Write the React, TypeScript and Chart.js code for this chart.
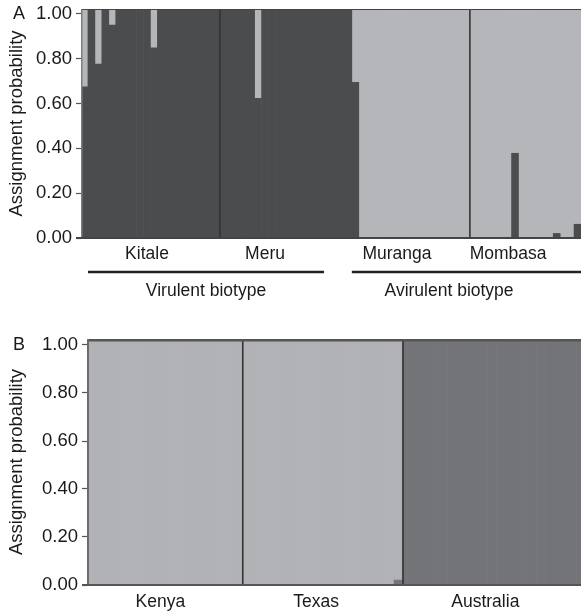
import React, { useEffect, useRef } from 'react';
import { Chart, registerables } from 'chart.js';

Chart.register(...registerables);

const FONT_FAMILY = '"Liberation Sans", Arial, Helvetica, sans-serif';
const FONT_SIZE = 17.5;
const AXIS_FONT_SIZE = 18.5;
const TEXT_COLOR = '#1a1a1a';

// ---------------- Panel A ----------------
const populationsA = ['Kitale', 'Meru', 'Muranga', 'Mombasa'];
// individual (within its population) under which the population name is printed
const labelIndexA = [9, 6, 5, 5];

const kitaleCluster1 = [0.66, 1, 0.76, 1, 0.93, 1, 1, 1, 1, 1, 0.83, 1, 1, 1, 1, 1, 1, 1, 1, 1];
const kitaleCluster2 = [0.34, 0, 0.24, 0, 0.07, 0, 0, 0, 0, 0, 0.17, 0, 0, 0, 0, 0, 0, 0, 0, 0];
const meruCluster1 = [1, 1, 1, 1, 1, 0.61, 1, 1, 1, 1, 1, 1, 1, 1, 1, 1, 1, 1, 1, 0.68];
const meruCluster2 = [0, 0, 0, 0, 0, 0.39, 0, 0, 0, 0, 0, 0, 0, 0, 0, 0, 0, 0, 0, 0.32];
const murangaCluster1 = [0, 0, 0, 0, 0, 0, 0, 0, 0, 0, 0, 0, 0, 0, 0, 0];
const murangaCluster2 = [1, 1, 1, 1, 1, 1, 1, 1, 1, 1, 1, 1, 1, 1, 1, 1];
const mombasaCluster1 = [0, 0, 0, 0, 0, 0, 0.37, 0, 0, 0, 0, 0, 0.02, 0, 0, 0.06];
const mombasaCluster2 = [1, 1, 1, 1, 1, 1, 0.63, 1, 1, 1, 1, 1, 0.98, 1, 1, 0.94];

const clusterA1 = [kitaleCluster1, meruCluster1, murangaCluster1, mombasaCluster1];
const clusterA2 = [kitaleCluster2, meruCluster2, murangaCluster2, mombasaCluster2];
// which population boundaries get a dividing line (after population i)
const dividersA = [true, false, true];

const biotypesA = [
  { name: 'Virulent biotype', first: 1, last: 34, labelAt: 17.5 },
  { name: 'Avirulent biotype', first: 39, last: 71, labelAt: 52.5 },
];

// ---------------- Panel B ----------------
const populationsB = ['Kenya', 'Texas', 'Australia'];
const labelIndexB = [16, 16, 18];

const kenyaCluster1 = [0, 0, 0, 0, 0, 0, 0, 0, 0, 0, 0, 0, 0, 0, 0, 0, 0, 0, 0, 0, 0, 0, 0, 0, 0, 0, 0, 0, 0, 0, 0, 0, 0, 0, 0];
const kenyaCluster2 = [1, 1, 1, 1, 1, 1, 1, 1, 1, 1, 1, 1, 1, 1, 1, 1, 1, 1, 1, 1, 1, 1, 1, 1, 1, 1, 1, 1, 1, 1, 1, 1, 1, 1, 1];
const texasCluster1 = [0, 0, 0, 0, 0, 0, 0, 0, 0, 0, 0, 0, 0, 0, 0, 0, 0, 0, 0, 0, 0, 0, 0, 0, 0, 0, 0, 0, 0, 0, 0, 0, 0, 0, 0.02, 0.02];
const texasCluster2 = [1, 1, 1, 1, 1, 1, 1, 1, 1, 1, 1, 1, 1, 1, 1, 1, 1, 1, 1, 1, 1, 1, 1, 1, 1, 1, 1, 1, 1, 1, 1, 1, 1, 1, 0.98, 0.98];
const australiaCluster1 = [1, 1, 1, 1, 1, 1, 1, 1, 1, 1, 1, 1, 1, 1, 1, 1, 1, 1, 1, 1, 1, 1, 1, 1, 1, 1, 1, 1, 1, 1, 1, 1, 1, 1, 1, 1, 1, 1, 1, 1];
const australiaCluster2 = [0, 0, 0, 0, 0, 0, 0, 0, 0, 0, 0, 0, 0, 0, 0, 0, 0, 0, 0, 0, 0, 0, 0, 0, 0, 0, 0, 0, 0, 0, 0, 0, 0, 0, 0, 0, 0, 0, 0, 0];

const clusterB1 = [kenyaCluster1, texasCluster1, australiaCluster1];
const clusterB2 = [kenyaCluster2, texasCluster2, australiaCluster2];
const dividersB = [true, true];

// ---------------- shared ----------------
const yTickValues = [0, 0.2, 0.4, 0.6, 0.8, 1.0];

function buildLabels(pops: string[], groups: number[][], labelIdx: number[]) {
  const out: string[] = [];
  groups.forEach((g, gi) => g.forEach((_, i) => out.push(i === labelIdx[gi] ? pops[gi] : '')));
  return out;
}

const decorPlugin = {
  id: 'panelDecor',
  afterDraw(chart: any, _args: any, opts: any) {
    const { ctx, chartArea: ca, scales } = chart;
    const x = scales.x;
    const yt = scales.yt;
    ctx.save();
    // separators between populations
    let start = 0;
    opts.groupSizes.forEach((size: number, gi: number) => {
      if (gi > 0 && opts.dividers[gi - 1]) {
        const px = x.getPixelForValue(start - 0.5);
        ctx.strokeStyle = opts.separatorColor;
        ctx.lineWidth = opts.separatorWidth;
        ctx.beginPath();
        ctx.moveTo(px, ca.top);
        ctx.lineTo(px, ca.bottom);
        ctx.stroke();
      }
      start += size;
    });
    // frame: top, left, bottom
    ctx.strokeStyle = opts.topColor;
    ctx.lineWidth = opts.topWidth;
    ctx.beginPath();
    ctx.moveTo(ca.left, ca.top + opts.topWidth / 2);
    ctx.lineTo(ca.right, ca.top + opts.topWidth / 2);
    ctx.stroke();

    ctx.strokeStyle = opts.leftColor;
    ctx.lineWidth = opts.leftWidth;
    ctx.beginPath();
    ctx.moveTo(ca.left + opts.leftWidth / 2, ca.top);
    ctx.lineTo(ca.left + opts.leftWidth / 2, ca.bottom);
    ctx.stroke();

    ctx.strokeStyle = opts.bottomColor;
    ctx.lineWidth = opts.bottomWidth;
    ctx.beginPath();
    ctx.moveTo(ca.left - 5, ca.bottom);
    ctx.lineTo(ca.right, ca.bottom);
    ctx.stroke();

    // panel letter
    ctx.fillStyle = TEXT_COLOR;
    ctx.font = `18px ${FONT_FAMILY}`;
    ctx.textAlign = 'left';
    ctx.textBaseline = 'middle';
    ctx.fillText(opts.letter, 13, yt.getPixelForValue(1));

    // biotype brackets
    ctx.font = `${FONT_SIZE}px ${FONT_FAMILY}`;
    (opts.biotypes || []).forEach((b: any) => {
      const x1 = x.getPixelForValue(b.first - 0.5);
      const x2 = x.getPixelForValue(b.last + 0.5);
      const ly = ca.bottom + 34;
      ctx.strokeStyle = '#222';
      ctx.lineWidth = 2.5;
      ctx.beginPath();
      ctx.moveTo(x1, ly);
      ctx.lineTo(x2, ly);
      ctx.stroke();
      ctx.textAlign = 'center';
      ctx.textBaseline = 'middle';
      ctx.fillText(b.name, x.getPixelForValue(b.labelAt), ca.bottom + 53);
    });
    ctx.restore();
  },
};

function makeConfig(p: {
  labels: string[];
  c1: number[];
  c2: number[];
  color1: string;
  color2: string;
  topPad: number;
  axisWidth: number;
  xHeight: number;
  tickMax: number;
  xGap: number;
  decor: any;
}) {
  const font = { family: FONT_FAMILY, size: FONT_SIZE };
  const axisFont = { family: FONT_FAMILY, size: AXIS_FONT_SIZE };
  return {
    type: 'bar' as const,
    data: {
      labels: p.labels,
      datasets: [
        { label: 'Cluster 1', data: p.c1, backgroundColor: p.color1, borderWidth: 0, categoryPercentage: 1, barPercentage: 1 },
        { label: 'Cluster 2', data: p.c2, backgroundColor: p.color2, borderWidth: 0, categoryPercentage: 1, barPercentage: 1 },
      ],
    },
    options: {
      responsive: false,
      animation: false as const,
      layout: { padding: { top: p.topPad, left: 0, right: 0, bottom: 0 } },
      plugins: {
        legend: { display: false },
        tooltip: { enabled: false },
        panelDecor: p.decor,
      },
      scales: {
        x: {
          stacked: true,
          grid: { display: false, drawTicks: true, tickLength: p.xGap },
          border: { display: false },
          ticks: { autoSkip: false, maxRotation: 0, minRotation: 0, padding: 0, font, color: TEXT_COLOR },
          afterFit: (s: any) => { s.height = p.xHeight; s.paddingLeft = 0; s.paddingRight = 0; },
        },
        y: { stacked: true, display: false, min: 0, max: 1 },
        yt: {
          type: 'linear' as const,
          position: 'left' as const,
          min: 0,
          max: p.tickMax,
          afterBuildTicks: (s: any) => { s.ticks = yTickValues.map((v) => ({ value: v })); },
          ticks: { callback: (v: any) => Number(v).toFixed(2), padding: 4, font: axisFont, color: TEXT_COLOR },
          grid: { drawOnChartArea: false, drawTicks: true, tickLength: 5, color: '#555', tickWidth: 1.2 },
          border: { display: false },
          title: { display: true, text: 'Assignment probability', font: axisFont, color: TEXT_COLOR, padding: { top: 6, bottom: 0 } },
          afterFit: (s: any) => { s.width = p.axisWidth; s.paddingTop = 0; s.paddingBottom = 0; },
        },
      },
    },
    plugins: [decorPlugin],
  };
}

export default function App() {
  const refA = useRef<HTMLCanvasElement>(null);
  const refB = useRef<HTMLCanvasElement>(null);

  useEffect(() => {
    const labelsA = buildLabels(populationsA, clusterA1, labelIndexA);
    const labelsB = buildLabels(populationsB, clusterB1, labelIndexB);
    const chartA = new Chart(refA.current as HTMLCanvasElement, makeConfig({
      labels: labelsA,
      c1: clusterA1.flat(),
      c2: clusterA2.flat(),
      color1: '#4b4c4e',
      color2: '#b5b6ba',
      topPad: 9,
      axisWidth: 81,
      xHeight: 67,
      tickMax: 1.022,
      xGap: 6,
      decor: {
        letter: 'A',
        groupSizes: clusterA1.map((g) => g.length),
        dividers: dividersA,
        separatorColor: '#333',
        separatorWidth: 1.6,
        topColor: '#444',
        topWidth: 1,
        leftColor: '#7d7d7d',
        leftWidth: 1.5,
        bottomColor: '#444',
        bottomWidth: 2,
        biotypes: biotypesA,
      },
    }) as any);
    const chartB = new Chart(refB.current as HTMLCanvasElement, makeConfig({
      labels: labelsB,
      c1: clusterB1.flat(),
      c2: clusterB2.flat(),
      color1: '#737478',
      color2: '#b1b2b6',
      topPad: 34,
      axisWidth: 87,
      xHeight: 27,
      tickMax: 1.025,
      xGap: 7,
      decor: {
        letter: 'B',
        groupSizes: clusterB1.map((g) => g.length),
        dividers: dividersB,
        separatorColor: '#333',
        separatorWidth: 1.6,
        topColor: '#555',
        topWidth: 2.5,
        leftColor: '#6b6b6b',
        leftWidth: 2,
        bottomColor: '#555',
        bottomWidth: 2,
      },
    }) as any);
    return () => {
      chartA.destroy();
      chartB.destroy();
    };
  }, []);

  return (
    <div style={{ position: 'fixed', left: 0, top: 0, width: 581, height: 612, background: '#fff' }}>
      <canvas ref={refA} width={581} height={305} style={{ position: 'absolute', left: 0, top: 0, display: 'block' }} />
      <canvas ref={refB} width={581} height={307} style={{ position: 'absolute', left: 0, top: 305, display: 'block' }} />
    </div>
  );
}
